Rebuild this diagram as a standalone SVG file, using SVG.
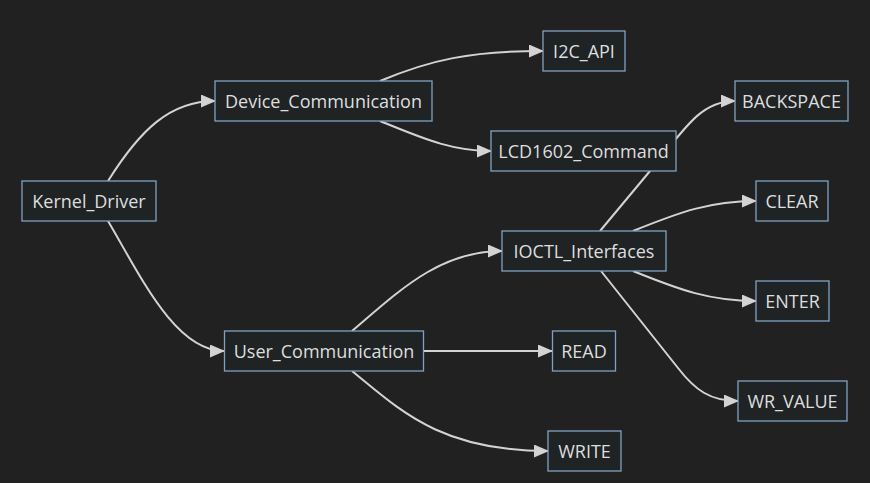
<svg xmlns="http://www.w3.org/2000/svg" width="870" height="483" viewBox="0 0 870 483">
<style>
.bg{fill:#212121}
.node rect{fill:#1f2324;stroke:#7fa2c4;stroke-width:1.3}
.node text{fill:#dedede;font-family:"Open Sans","DejaVu Sans",sans-serif;font-size:18px;font-weight:500;text-anchor:middle}
.edge{fill:none;stroke:#d3d3d3;stroke-width:2;marker-end:url(#arr)}
</style>
<defs>
<marker id="arr" viewBox="0 0 15 13" refX="14" refY="6.5" markerWidth="15" markerHeight="13" markerUnits="userSpaceOnUse" orient="auto">
<path d="M0,0 L15,6.5 L0,13 z" fill="#d3d3d3"/>
</marker>
</defs>
<rect class="bg" x="0" y="0" width="870" height="483"/>
<g id="edges">
<path class="edge" d="M108,181 C140,130 170,101 215,101"/>
<path class="edge" d="M108,221 C140,275 175,351 224,351"/>
<path class="edge" d="M380,81 C430,60 470,51 543,51"/>
<path class="edge" d="M380,121 C420,137 450,151 491,151"/>
<path class="edge" d="M352,331 C400,290 440,251 502,251"/>
<path class="edge" d="M424,351 L552,351"/>
<path class="edge" d="M352,371 C400,410 440,451 548,451"/>
<path class="edge" d="M600,231 L655,165 C690,120 705,101 735,101"/>
<path class="edge" d="M633,231 C680,212 710,201 756,201"/>
<path class="edge" d="M633,271 C680,290 710,301 756,301"/>
<path class="edge" d="M601,271 L678,368 C695,390 710,401 738,401"/>
</g>
<g id="Kernel_Driver" class="node"><rect x="22" y="181" width="134" height="40"/><text x="89" y="207.5">Kernel_Driver</text></g>
<g id="Device_Communication" class="node"><rect x="215" y="81" width="217" height="40"/><text x="323.5" y="107.5">Device_Communication</text></g>
<g id="I2C_API" class="node"><rect x="543" y="31" width="82" height="40"/><text x="584" y="57.5">I2C_API</text></g>
<g id="LCD1602_Command" class="node"><rect x="491" y="131" width="185" height="40"/><text x="583.5" y="157.5">LCD1602_Command</text></g>
<g id="BACKSPACE" class="node"><rect x="735" y="81" width="113" height="40"/><text x="791.5" y="107.5">BACKSPACE</text></g>
<g id="CLEAR" class="node"><rect x="756" y="181" width="72" height="40"/><text x="792" y="207.5">CLEAR</text></g>
<g id="IOCTL_Interfaces" class="node"><rect x="502" y="231" width="164" height="40"/><text x="584" y="257.5">IOCTL_Interfaces</text></g>
<g id="User_Communication" class="node"><rect x="224.5" y="331" width="199" height="40"/><text x="324" y="357.5">User_Communication</text></g>
<g id="READ" class="node"><rect x="552.5" y="331" width="63" height="40"/><text x="584" y="357.5">READ</text></g>
<g id="WRITE" class="node"><rect x="548" y="431" width="73" height="40"/><text x="584.5" y="457.5">WRITE</text></g>
<g id="ENTER" class="node"><rect x="756" y="281" width="73" height="40"/><text x="792.5" y="307.5">ENTER</text></g>
<g id="WR_VALUE" class="node"><rect x="738" y="381" width="109" height="40"/><text x="792.5" y="407.5">WR_VALUE</text></g>
</svg>
